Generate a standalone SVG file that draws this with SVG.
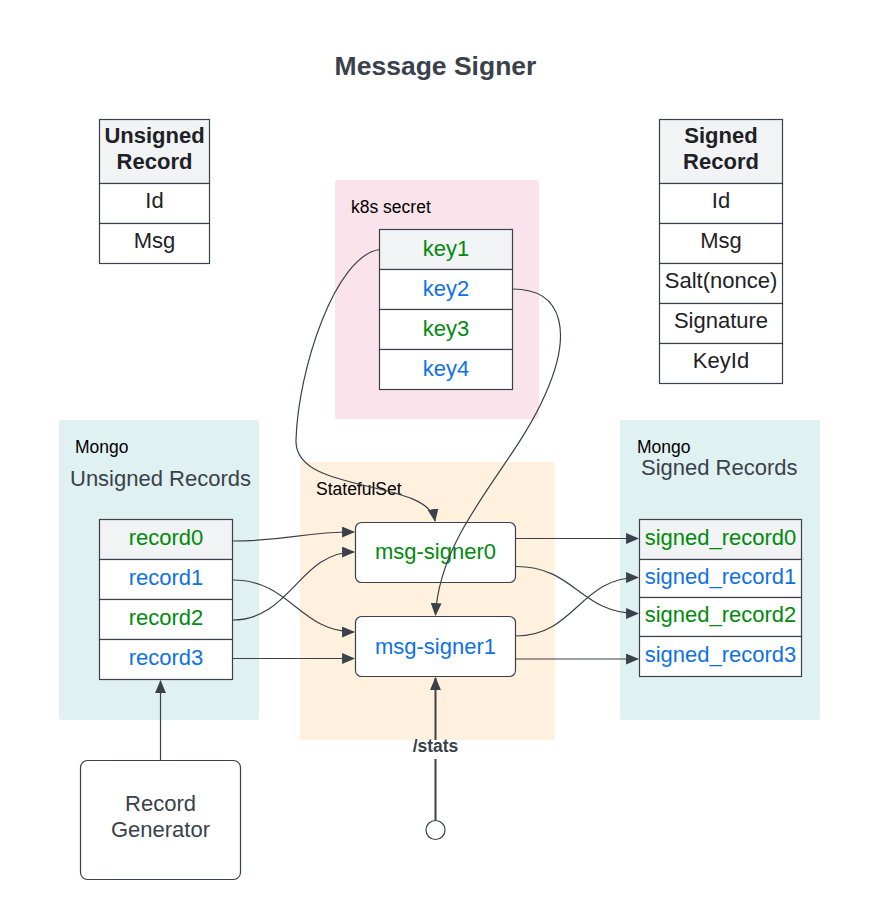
<svg xmlns="http://www.w3.org/2000/svg" width="879" height="920" viewBox="0 0 879 920">
<defs>
<marker id="ah" viewBox="0 0 12 10" refX="11" refY="5" markerWidth="13" markerHeight="11" markerUnits="userSpaceOnUse" orient="auto">
<path d="M0,0 L12,5 L0,10 z" fill="#3a414a"/>
</marker>
<style>
text{font-family:"Liberation Sans",Arial,sans-serif;}
.t{font-size:22px;fill:#1e2126;text-anchor:middle;}
.b{font-weight:bold;}
.g{fill:#008a0e;}
.bl{fill:#1071e5;}
.cell{fill:#ffffff;stroke:#3a414a;stroke-width:1.2;}
.hd{fill:#f2f3f5;stroke:#3a414a;stroke-width:1.2;}
.lbl{font-size:17.5px;fill:#000;}
.sub{font-size:22px;fill:#3a414a;}
.con{fill:none;stroke:#3a414a;stroke-width:1.2;marker-end:url(#ah);}
</style>
</defs>
<rect width="879" height="920" fill="#ffffff"/>
<text x="435.5" y="75" text-anchor="middle" font-size="26.5" font-weight="bold" fill="#3a414a">Message Signer</text>

<g id="containers">
<rect id="k8s-secret" x="335" y="180" width="204" height="239" rx="3" fill="#fbe3eb"/>
<text x="351" y="213" class="lbl">k8s secret</text>
<rect id="statefulset" x="300" y="462" width="255" height="278" rx="3" fill="#fff1dd"/>
<text x="316" y="495" class="lbl">StatefulSet</text>
<rect id="mongo-unsigned" x="59" y="420" width="200" height="300" rx="3" fill="#e0f1f1"/>
<text x="75" y="453" class="lbl">Mongo</text>
<text x="70" y="486" class="sub">Unsigned Records</text>
<rect id="mongo-signed" x="620" y="420" width="200" height="300" rx="3" fill="#e0f1f1"/>
<text x="637" y="453" class="lbl">Mongo</text>
<text x="641" y="475" class="sub">Signed Records</text>
</g>

<g id="unsigned-record">
<rect x="99.5" y="119.5" width="110" height="64" class="hd"/>
<rect x="99.5" y="183.5" width="110" height="40" class="cell"/>
<rect x="99.5" y="223.5" width="110" height="40" class="cell"/>
<text x="154.5" y="143" class="t b">Unsigned</text>
<text x="154.5" y="169" class="t b">Record</text>
<text x="154.5" y="208" class="t">Id</text>
<text x="154.5" y="248" class="t">Msg</text>
</g>

<g id="signed-record">
<rect x="659.5" y="119.5" width="123" height="64" class="hd"/>
<rect x="659.5" y="183.5" width="123" height="40" class="cell"/>
<rect x="659.5" y="223.5" width="123" height="40" class="cell"/>
<rect x="659.5" y="263.5" width="123" height="40" class="cell"/>
<rect x="659.5" y="303.5" width="123" height="40" class="cell"/>
<rect x="659.5" y="343.5" width="123" height="40" class="cell"/>
<text x="721" y="143" class="t b">Signed</text>
<text x="721" y="169" class="t b">Record</text>
<text x="721" y="208" class="t">Id</text>
<text x="721" y="248" class="t">Msg</text>
<text x="721" y="288" class="t">Salt(nonce)</text>
<text x="721" y="328" class="t">Signature</text>
<text x="721" y="368" class="t">KeyId</text>
</g>

<g id="keys">
<rect x="379.5" y="229.5" width="133" height="40" class="hd"/>
<rect x="379.5" y="269.5" width="133" height="40" class="cell"/>
<rect x="379.5" y="309.5" width="133" height="40" class="cell"/>
<rect x="379.5" y="349.5" width="133" height="40" class="cell"/>
<text x="446" y="256" class="t g">key1</text>
<text x="446" y="296" class="t bl">key2</text>
<text x="446" y="336" class="t g">key3</text>
<text x="446" y="376" class="t bl">key4</text>
</g>

<g id="unsigned-records">
<rect x="99.5" y="519.5" width="133" height="40" class="hd"/>
<rect x="99.5" y="559.5" width="133" height="40" class="cell"/>
<rect x="99.5" y="599.5" width="133" height="40" class="cell"/>
<rect x="99.5" y="639.5" width="133" height="40" class="cell"/>
<text x="166" y="545" class="t g">record0</text>
<text x="166" y="585" class="t bl">record1</text>
<text x="166" y="625" class="t g">record2</text>
<text x="166" y="665" class="t bl">record3</text>
</g>

<g id="signed-records">
<rect x="639.5" y="519.5" width="162" height="40" class="hd"/>
<rect x="639.5" y="559.5" width="162" height="38" class="cell"/>
<rect x="639.5" y="597.5" width="162" height="39" class="cell"/>
<rect x="639.5" y="636.5" width="162" height="40" class="cell"/>
<text x="720.5" y="545" class="t g">signed_record0</text>
<text x="720.5" y="584" class="t bl">signed_record1</text>
<text x="720.5" y="622" class="t g">signed_record2</text>
<text x="720.5" y="662" class="t bl">signed_record3</text>
</g>

<g id="msg-signer0">
<rect x="355.5" y="522.5" width="160" height="60" rx="6" class="cell"/>
<text x="435.5" y="559" class="t g">msg-signer0</text>
</g>
<g id="msg-signer1">
<rect x="355.5" y="616.5" width="160" height="60" rx="6" class="cell"/>
<text x="435.5" y="654" class="t bl">msg-signer1</text>
</g>

<g id="record-generator">
<rect x="80.5" y="760.5" width="160" height="119" rx="7" class="cell"/>
<text x="160.5" y="811" class="t" style="fill:#3a414a">Record</text>
<text x="160.5" y="837" class="t" style="fill:#3a414a">Generator</text>
</g>

<g id="stats-endpoint">
<circle cx="435.5" cy="830" r="9.5" fill="#ffffff" stroke="#3a414a" stroke-width="1.2"/>
</g>

<g id="connectors">
<path class="con" d="M379.5,249.5 C335,256 298,370 296,440 C294,495 428,478 435,521"/>
<path class="con" d="M512.5,289 C565,289 572,335 545,395 C512,470 440,530 435.5,615"/>
<path class="con" d="M233,541 C290,541 300,532 354,532"/>
<path class="con" d="M233,580 C290,580 300,632 354,632"/>
<path class="con" d="M233,620 C290,620 300,552 354,552"/>
<path class="con" d="M233,658.5 L354,658.5"/>
<path class="con" d="M516,538.5 L638,538.5"/>
<path class="con" d="M516,566.5 C575,566.5 580,613.5 638,613.5"/>
<path class="con" d="M516,636 C575,636 580,577.5 638,577.5"/>
<path class="con" d="M516,659 L638,659"/>
<path class="con" d="M160.5,760 L160.5,681"/>
<path class="con" style="stroke-width:2" d="M435.5,820 L435.5,678"/>
<rect x="404" y="740" width="63" height="19" fill="#ffffff"/>
<text x="435.5" y="752" text-anchor="middle" font-size="17.5" font-weight="bold" fill="#3a414a">/stats</text>
</g>
</svg>
